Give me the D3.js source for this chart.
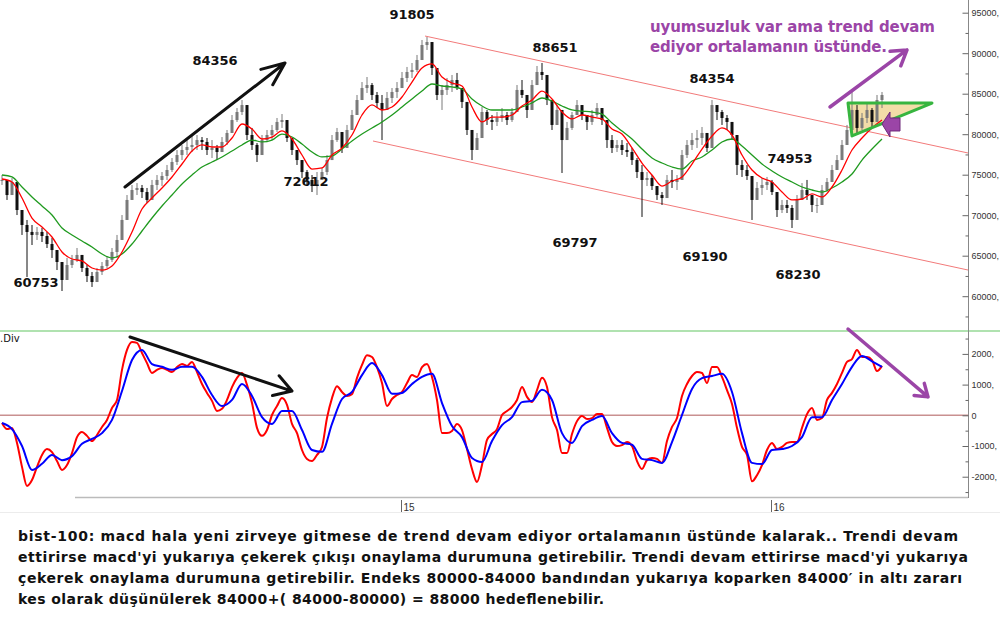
<!DOCTYPE html>
<html>
<head>
<meta charset="utf-8">
<script src="https://cdnjs.cloudflare.com/ajax/libs/d3/7.8.5/d3.min.js"></script>
<style>
    body { margin: 0; background: #fff; }
</style>
</head>
<body>
<div id="chart"></div>
<script>
// bars: one bar every few sessions
const priceHigh = [
    74960, 74350, 74590, 73110, 70640, 69410, 68790, 68540, 68420, 67930,
    67180, 65700, 64220, 64720, 65090, 65950, 64720, 63850, 62990, 63480,
    64220, 64960, 65950, 67560, 70020, 72490, 73730, 73970, 73730, 73360,
    74350, 74960, 75330, 76200, 77060, 78050, 78670, 79280, 79900, 79900,
    79650, 79530, 79280, 78670, 79650, 80520, 82370, 83230, 84220, 82740,
    80770, 78910, 79900, 80520, 81140, 82000, 82490, 81140, 79280, 78050,
    76570, 75580, 74960, 75330, 75830, 77430, 79900, 80770, 79530, 81140,
    82990, 84840, 86440, 87060, 86320, 85210, 84840, 85210, 85700, 86440,
    87680, 88300, 88790, 89780, 91630, 92000, 90150, 87930, 86070, 86940,
    87310, 87560, 85210, 82990, 80520, 80150, 83360, 82990, 82370, 82740,
    83230, 82740, 83230, 86070, 86690, 84470, 86690, 88420, 88790, 86440,
    82740, 83600, 82370, 81510, 82740, 84220, 83600, 82370, 82990, 83850,
    82990, 81140, 79900, 79280, 79280, 78910, 78300, 77060, 76200, 75330,
    74960, 73360, 72860, 74960, 75580, 74960, 78050, 79280, 80150, 80520,
    80890, 79900, 84220, 83600, 82990, 82370, 81510, 79280, 76810, 76200,
    74350, 74100, 74590, 74720, 74350, 71880, 71880, 71880, 71260, 72490,
    73970, 74350, 72490, 72120, 73730, 74590, 76200, 77430, 79280, 81140,
    85460, 83600, 82620, 83850, 83230, 84840, 85210
];
const priceLow = [
    73730, 71880, 73110, 70020, 67560, 62370, 66320, 66940, 66690, 65950,
    64720, 63230, 60640, 62620, 63480, 64220, 62990, 61750, 61140, 62000,
    62620, 63480, 64220, 64720, 67180, 70020, 71880, 72490, 72120, 71510,
    71880, 73110, 73600, 74350, 75330, 76200, 76810, 77430, 77800, 78050,
    78050, 77430, 77060, 76810, 78300, 78670, 80520, 81510, 82370, 79280,
    78050, 76570, 78050, 79040, 79280, 80270, 80770, 79040, 77430, 76200,
    74590, 73730, 72860, 72490, 74350, 74960, 77060, 79040, 77680, 78670,
    80770, 82370, 84220, 85090, 84220, 83230, 79280, 83230, 83850, 84470,
    85700, 86440, 86940, 87680, 89410, 90400, 87310, 84220, 82990, 84840,
    85210, 85460, 83230, 79900, 76810, 78300, 81140, 81140, 80520, 81010,
    81510, 81140, 81510, 83600, 84470, 82000, 83600, 86070, 86690, 83600,
    80520, 81140, 75210, 79900, 80520, 82370, 81750, 80520, 81140, 82120,
    81140, 78300, 77680, 77800, 77430, 77190, 76200, 74590, 69780, 73600,
    73110, 71880, 71260, 72860, 73360, 73110, 75830, 77060, 78050, 78300,
    78670, 77800, 82000, 81750, 81140, 80520, 79280, 74960, 74720, 74350,
    69410, 71880, 72490, 73110, 72490, 69780, 70270, 70270, 68420, 70390,
    72120, 71880, 70390, 70270, 71880, 72860, 74350, 75580, 76810, 78670,
    79900, 80150, 80520, 81380, 80890, 82370, 83230
];
const priceClose = [
    74350, 72490, 74100, 70640, 68790, 67930, 67560, 67930, 67430, 66440,
    65700, 64220, 62000, 63850, 64470, 65090, 63480, 62490, 61750, 62990,
    63730, 64470, 65460, 66940, 69410, 71880, 73110, 73360, 72860, 71880,
    73730, 74350, 74840, 75580, 76570, 77430, 78050, 78420, 78670, 79280,
    79040, 78050, 78300, 77800, 79040, 80150, 81750, 82740, 83600, 79900,
    78670, 77430, 79280, 79900, 80520, 81510, 81750, 79530, 78050, 76810,
    75330, 74350, 73600, 74350, 75330, 76810, 79280, 80270, 78300, 80520,
    82370, 84220, 85700, 86070, 84840, 83850, 82990, 84470, 85210, 85700,
    86940, 87680, 87930, 89160, 91010, 91380, 88170, 84840, 85460, 86070,
    86690, 85700, 83980, 80520, 78050, 79530, 82740, 81750, 81510, 82000,
    82370, 81750, 82740, 85460, 84840, 82990, 86070, 87680, 87310, 84220,
    81140, 82990, 79280, 80770, 82370, 83600, 82370, 81510, 82370, 83230,
    81750, 79280, 78300, 78670, 78050, 77800, 76810, 75330, 74350, 74590,
    73600, 72490, 72120, 74350, 74100, 74350, 77430, 78670, 79280, 79530,
    80150, 78300, 83600, 82740, 82000, 81510, 79900, 76200, 75580, 74840,
    71880, 73360, 73730, 74100, 72860, 70640, 71260, 70890, 69410, 71880,
    73110, 72490, 71260, 71260, 73110, 74100, 75580, 76810, 78670, 80520,
    82990, 80770, 82000, 82990, 81510, 84220, 84840
];

// moving averages, one value every 2 bars
const maFast = [
    74470, 74100, 72120, 69650, 68540, 67310, 65460, 64590, 64350, 63480,
    63230, 63730, 65460, 67930, 70770, 72120, 73360, 74720, 76320, 77930,
    78670, 78420, 78420, 79530, 81260, 80640, 79410, 79650, 80400, 79410,
    77430, 75700, 75830, 77430, 78300, 79900, 82370, 83610, 82990, 83360,
    84590, 86440, 88170, 88670, 87060, 86320, 85950, 83360, 81510, 82120,
    82120, 82370, 83480, 84220, 85330, 84350, 82740, 81880, 82370, 82120,
    81880, 80640, 80020, 78300, 76440, 74960, 73600, 74220, 74720, 76320,
    78170, 79780, 80770, 79900, 77430, 75580, 74590, 74100, 72860, 71880,
    72000, 72620, 72250, 73480, 75580, 78050, 79530, 80770, 81750
];
const maSlow = [
    74960, 74720, 73480, 72250, 71140, 70020, 68420, 67560, 66810, 66070,
    65210, 64720, 65210, 66440, 68050, 69650, 71140, 72490, 73850, 74960,
    75950, 76570, 77190, 77930, 78670, 79280, 79040, 79280, 80020, 79650,
    78790, 77800, 77190, 77310, 78170, 79160, 80020, 80770, 81510, 82370,
    83360, 84350, 85330, 86200, 85950, 85830, 85580, 84350, 83480, 82990,
    82990, 82990, 83360, 83850, 84470, 84100, 83480, 82990, 82860, 82740,
    82490, 81380, 80400, 79410, 78170, 77060, 76440, 75950, 75700, 76690,
    77190, 78050, 79040, 79410, 78540, 77430, 76320, 75460, 74720, 74100,
    73480, 73110, 72860, 73360, 74100, 75090, 76810, 78170, 79410
];

// macd every bar, signal every 2 bars
const macdLine = [
    -250, -450, -410, -900, -1680, -2300, -2110, -1680, -1290, -1100,
    -1200, -1490, -1780, -1620, -1230, -710, -540, -670, -840, -640,
    -380, -150, 240, 500, 1480, 2130, 2390, 2360, 2030, 1700,
    1380, 1480, 1540, 1480, 1410, 1570, 1670, 1610, 1740, 1410,
    1020, 730, 470, 140, 210, 500, 920, 1220, 1380, 990,
    400, -410, -670, -480, 10, 300, 560, 340, -280, -580,
    -1130, -1420, -1490, -1290, -1030, -90, 560, 950, 760, 630,
    690, 1220, 1640, 1960, 1900, 1570, 1050, 300, 530, 660,
    760, 1050, 1310, 1250, 1570, 1670, 1250, 500, -580, -580,
    -510, -280, -480, -1100, -1750, -2170, -1620, -800, -610, -450,
    10, 140, 270, 500, 920, 600, 430, 820, 1220, 920,
    -60, -480, -1230, -1230, -610, -190, -20, -120, -90, 40,
    40, -410, -870, -1000, -970, -870, -1000, -1490, -1750, -1460,
    -1390, -1420, -1550, -840, -380, -90, 630, 1020, 1280, 1410,
    1380, 1050, 1570, 1570, 1250, 820, 370, -410, -1030, -1290,
    -2150, -1950, -1620, -1130, -900, -1100, -1030, -900, -870, -870,
    -410, 40, 240, -150, -90, 500, 730, 1020, 1380, 1740,
    1830, 2130, 1900, 1900, 1800, 1440, 1610
];
const signalLine = [
    -250, -450, -1000, -1780, -1580, -1290, -1460, -1330, -930, -770,
    -580, -150, 790, 1800, 2130, 1670, 1580, 1480, 1580, 1580,
    1250, 660, 300, 500, 1020, 630, -60, -280, 140, 140,
    -480, -1130, -1190, -280, 530, 760, 1310, 1700, 1310, 700,
    730, 1020, 1250, 1350, 400, -350, -710, -1390, -1520, -840,
    -320, -60, 430, 470, 830, 500, -580, -900, -350, -150,
    -20, -580, -900, -960, -1420, -1460, -1550, -870, 10, 860,
    1210, 1280, 1350, 760, -580, -1550, -1590, -1130, -1100, -1000,
    -710, -60, -60, 500, 1020, 1580, 1930, 1760, 1580
];

const priceTicks = [60000, 65000, 70000, 75000, 80000, 85000, 90000, 95000];
const priceMinor = [57500, 62500, 67500, 72500, 77500, 82500, 87500, 92500];
const macdTicks = [-2000, -1000, 0, 1000, 2000];
const macdMinor = [-2500, -1500, -500, 500, 1500, 2500];
const yearLabels = ['15', '16'];
const yearStartBar = [79.8, 153.8];

// peak / trough notes: text, bar, price
const noteText = ['91805', '84356', '88651', '84354', '72612', '74953', '60753', '69797', '69190', '68230'];
const noteBar = [82, 42.6, 110.6, 142, 60.8, 157.6, 6.8, 114.6, 140.6, 159.2];
const notePrice = [94220, 88540, 90150, 86320, 73600, 76440, 61140, 66070, 64350, 62120];

// drawn lines, as [bar, value]
const channelTop = [[84.6, 92120], [193.2, 77680]];
const channelBottom = [[74.2, 79160], [193.2, 63230]];
const trendArrow = [[24.6, 73480], [56.6, 88790]];
const upArrow = [[165.6, 83360], [181, 90400]];
const triangle = [[169.2, 83850], [186, 83850], [170, 79780]];
const blockArrowTip = [176, 81260];
const macdBlackArrow = [[25.6, 2550], [58, 790]];
const macdPurpleArrow = [[169.2, 2810], [185.2, 600]];

const purpleLines = ['uyumsuzluk var ama trend devam', 'ediyor ortalamanın üstünde.'];
const commentLines = [
    'bist-100: macd hala yeni zirveye gitmese de trend devam ediyor ortalamanın üstünde kalarak.. Trendi devam',
    "ettirirse macd'yi yukarıya çekerek çıkışı onaylama durumuna getirebilir. Trendi devam ettirirse macd'yi yukarıya",
    'çekerek onaylama durumuna getirebilir. Endeks 80000-84000 bandından yukarıya koparken 84000′ in altı zararı',
    'kes olarak düşünülerek 84000+( 84000-80000) = 88000 hedeflenebilir.'
];
const commentWidths = [940, 950, 944, 586];

const width = 1000;
const height = 625;
const axisX = 968;
const purple = '#9b45a7';
const boldFont = `'DejaVu Sans', Verdana, sans-serif`;
const axisFont = `'Liberation Sans', Arial, sans-serif`;

const x = d3.scaleLinear().domain([0, priceClose.length - 1]).range([2, 882]);
const yP = d3.scaleLinear().domain([55826, 96568]).range([330, 0]);
const yM = d3.scaleLinear().domain([-2661, 2746]).range([497, 331]);

const svg = d3.select('#chart')
    .append('svg')
    .attr('width', width)
    .attr('height', height)
    .style('font-family', boldFont);

const pt = (d, ys) => [x(d[0]), ys(d[1])];

const drawArrow = (layer, p0, p1, color, w, len, ang) => {
    const a = Math.atan2(p0[1] - p1[1], p0[0] - p1[0]);
    const w1 = [p1[0] + len * Math.cos(a + ang), p1[1] + len * Math.sin(a + ang)];
    const w2 = [p1[0] + len * Math.cos(a - ang), p1[1] + len * Math.sin(a - ang)];
    layer.append('path')
        .attr('d', `M${p0}L${p1}M${w1}L${p1}L${w2}`)
        .attr('fill', 'none')
        .attr('stroke', color)
        .attr('stroke-width', w)
        .attr('stroke-linecap', 'round')
        .attr('stroke-linejoin', 'round');
};

// panel frame lines
svg.append('line')
    .attr('x1', 0).attr('x2', width).attr('y1', 331).attr('y2', 331)
    .attr('stroke', '#96d896').attr('stroke-width', 1.5);
svg.append('line')
    .attr('x1', 0).attr('x2', axisX).attr('y1', yM(0)).attr('y2', yM(0))
    .attr('stroke', '#c99090').attr('stroke-width', 1.5);
svg.append('line')
    .attr('x1', 75).attr('x2', axisX).attr('y1', 497.5).attr('y2', 497.5)
    .attr('stroke', '#bbb').attr('stroke-width', 1.5);
svg.append('line')
    .attr('x1', 0).attr('x2', width).attr('y1', 512.5).attr('y2', 512.5)
    .attr('stroke', '#ececec');

// channel
[channelTop, channelBottom].forEach(c => {
    svg.append('line')
        .attr('x1', x(c[0][0])).attr('y1', yP(c[0][1]))
        .attr('x2', x(c[1][0])).attr('y2', yP(c[1][1]))
        .attr('stroke', '#f27a7a')
        .attr('stroke-width', 1);
});

// triangle fill under the bars
const triPts = triangle.map(d => pt(d, yP));
svg.append('polygon')
    .attr('points', triPts.join(' '))
    .attr('fill', '#f3dda8');

// candles
const bars = priceClose.map((c, i) => ({
    i: i,
    o: i > 0 ? priceClose[i - 1] : c,
    h: priceHigh[i],
    l: priceLow[i],
    c: c
}));

const candle = svg.append('g').selectAll('g')
    .data(bars)
    .join('g');

candle.append('line')
    .attr('x1', d => x(d.i)).attr('x2', d => x(d.i))
    .attr('y1', d => yP(Math.max(d.h, d.o, d.c)))
    .attr('y2', d => yP(Math.min(d.l, d.o, d.c)))
    .attr('stroke', d => d.c >= d.o ? '#7a7a7a' : '#111')
    .attr('stroke-width', 1);

candle.append('rect')
    .attr('x', d => x(d.i) - 1.5)
    .attr('width', 3)
    .attr('y', d => yP(Math.max(d.o, d.c)))
    .attr('height', d => Math.max(1, Math.abs(yP(d.o) - yP(d.c))))
    .attr('fill', d => d.c >= d.o ? '#7a7a7a' : '#111');

// moving averages
const maLine = d3.line()
    .x((d, k) => x(k * 2))
    .y(d => yP(d))
    .curve(d3.curveMonotoneX);

svg.append('path').attr('d', maLine(maSlow))
    .attr('fill', 'none').attr('stroke', '#1f9a1f').attr('stroke-width', 1.3);
svg.append('path').attr('d', maLine(maFast))
    .attr('fill', 'none').attr('stroke', '#ff0000').attr('stroke-width', 1.3);

// triangle outline
svg.append('path')
    .attr('d', `M${triPts[0]}L${triPts[1]}L${triPts[2]}Z`)
    .attr('fill', 'none')
    .attr('stroke', '#37b53f')
    .attr('stroke-width', 3)
    .attr('stroke-linejoin', 'round');

// purple block arrow
const tip = pt(blockArrowTip, yP);
const block = [[0, 0], [8, -12], [8, -6], [18, -6], [18, 7], [8, 7], [8, 13]]
    .map(d => [tip[0] + d[0], tip[1] + d[1]]);
svg.append('polygon')
    .attr('points', block.join(' '))
    .attr('fill', purple)
    .attr('stroke', '#6e2a7a')
    .attr('stroke-width', 1);

// arrows
drawArrow(svg, pt(trendArrow[0], yP), pt(trendArrow[1], yP), '#111', 3, 25, 0.4);
drawArrow(svg, pt(upArrow[0], yP), pt(upArrow[1], yP), purple, 3.5, 17, 0.56);

// price labels
svg.append('g').selectAll('text')
    .data(noteText)
    .join('text')
    .attr('x', (d, i) => x(noteBar[i]))
    .attr('y', (d, i) => yP(notePrice[i]))
    .attr('text-anchor', 'middle')
    .style('font', `bold 13px ${boldFont}`)
    .attr('fill', '#111')
    .text(d => d);

svg.append('g').selectAll('text')
    .data(purpleLines)
    .join('text')
    .attr('x', 650)
    .attr('y', (d, i) => 32 + i * 19.5)
    .style('font', `bold 15px ${boldFont}`)
    .attr('fill', purple)
    .attr('textLength', (d, i) => i === 0 ? 285 : 237)
    .attr('lengthAdjust', 'spacing')
    .text(d => d);

// macd
const macdPath = d3.line()
    .x((d, i) => x(i))
    .y(d => yM(d))
    .curve(d3.curveMonotoneX);
const signalPath = d3.line()
    .x((d, k) => x(k * 2))
    .y(d => yM(d))
    .curve(d3.curveMonotoneX);

svg.append('path').attr('d', macdPath(macdLine))
    .attr('fill', 'none').attr('stroke', '#ff0000').attr('stroke-width', 2);
svg.append('path').attr('d', signalPath(signalLine))
    .attr('fill', 'none').attr('stroke', '#0000ff').attr('stroke-width', 2);

drawArrow(svg, pt(macdBlackArrow[0], yM), pt(macdBlackArrow[1], yM), '#111', 3, 20, 0.55);
drawArrow(svg, pt(macdPurpleArrow[0], yM), pt(macdPurpleArrow[1], yM), purple, 3.5, 14, 0.6);

svg.append('text')
    .attr('x', 0).attr('y', 342)
    .style('font', `10px ${boldFont}`)
    .attr('fill', '#111')
    .text('.Div');

// right axis
svg.append('line')
    .attr('x1', axisX + 0.5).attr('x2', axisX + 0.5).attr('y1', 0).attr('y2', 498)
    .attr('stroke', '#888');

const axisStyle = (g) => g
    .call(g => g.select('.domain').remove())
    .call(g => g.selectAll('.tick line').attr('stroke', '#666'))
    .call(g => g.selectAll('.tick text')
        .attr('fill', '#333')
        .style('font', `9px ${axisFont}`));

svg.append('g')
    .attr('transform', `translate(${axisX + 0.5},0)`)
    .call(d3.axisRight(yP).tickValues(priceTicks).tickSize(-6).tickSizeOuter(0).tickPadding(3)
        .tickFormat(d => d + ','))
    .call(axisStyle);
svg.append('g')
    .attr('transform', `translate(${axisX + 0.5},0)`)
    .call(d3.axisRight(yP).tickValues(priceMinor).tickSize(-3).tickSizeOuter(0).tickFormat(''))
    .call(axisStyle);

svg.append('g')
    .attr('transform', `translate(${axisX + 0.5},0)`)
    .call(d3.axisRight(yM).tickValues(macdTicks).tickSize(-6).tickSizeOuter(0).tickPadding(3)
        .tickFormat(d => d === 0 ? '0' : d + ','))
    .call(axisStyle);
svg.append('g')
    .attr('transform', `translate(${axisX + 0.5},0)`)
    .call(d3.axisRight(yM).tickValues(macdMinor).tickSize(-3).tickSizeOuter(0).tickFormat(''))
    .call(axisStyle);

// bottom axis
svg.append('g')
    .attr('transform', `translate(0,500)`)
    .call(d3.axisBottom(x).tickValues(yearStartBar).tickSize(12).tickSizeOuter(0)
        .tickFormat((d, i) => yearLabels[i]))
    .call(axisStyle)
    .call(g => g.selectAll('.tick text')
        .attr('text-anchor', 'start')
        .attr('x', 2)
        .attr('y', 4)
        .style('font', `10px ${axisFont}`));

// comment below chart
svg.append('g').selectAll('text')
    .data(commentLines)
    .join('text')
    .attr('x', 18)
    .attr('y', (d, i) => 541 + i * 21)
    .style('font', `bold 14px ${boldFont}`)
    .attr('fill', '#111')
    .attr('textLength', (d, i) => commentWidths[i])
    .attr('lengthAdjust', 'spacing')
    .text(d => d);
</script>
</body>
</html>
